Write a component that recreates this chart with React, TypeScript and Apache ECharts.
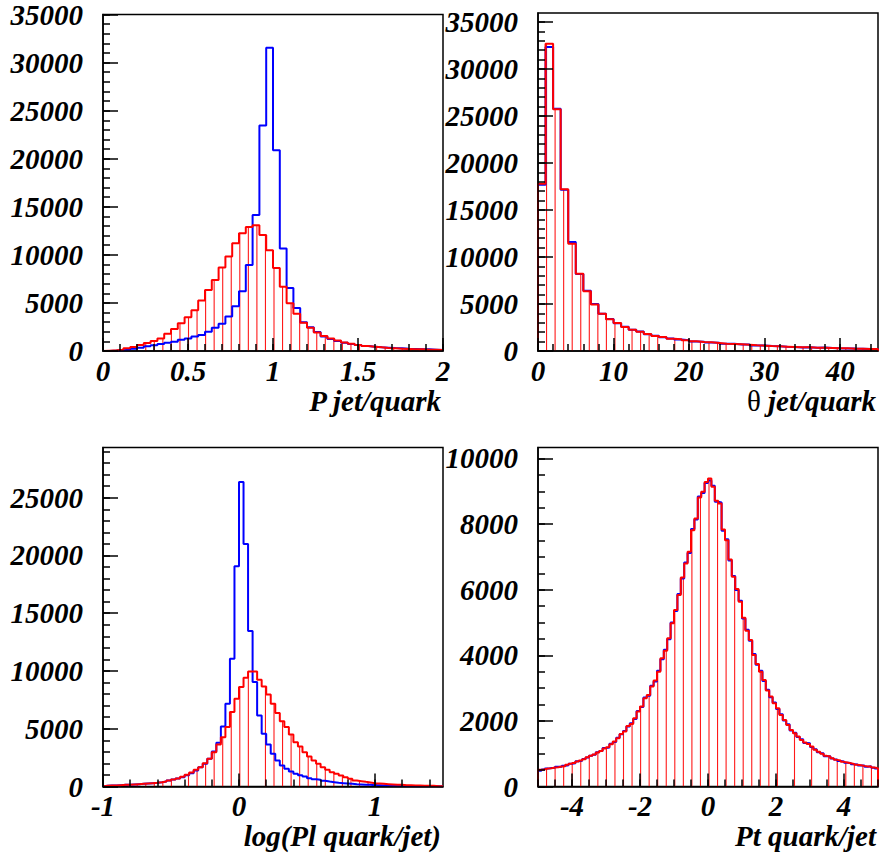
import React, { useEffect, useRef } from 'react';
import * as echarts from 'echarts';

// ---------- DATA ----------
// Panel 1: P jet/quark, 50 bins on [0, 2]
const pBins = { min: 0, max: 2 };
const pBlue = [0, 35, 69, 138, 241, 345, 483, 586, 724, 862, 966, 1173, 1311, 1518, 1656, 2000, 2415, 2830, 3588, 4658, 6210, 8935, 14145, 23460, 31530, 20870, 10660, 6555, 4485, 3000, 2480, 1970, 1520, 1240, 1035, 860, 720, 620, 520, 450, 380, 345, 310, 276, 240, 207, 172, 172, 138, 103];
const pRed = [35, 69, 138, 276, 414, 621, 828, 1035, 1311, 1794, 2277, 2898, 3519, 4244, 5244, 6348, 7383, 8694, 9830, 11210, 12250, 12900, 13075, 12075, 10490, 8625, 6693, 4968, 3864, 2933, 2415, 1932, 1552, 1311, 1104, 897, 759, 621, 517, 448, 380, 310, 276, 241, 207, 172, 172, 138, 138, 103];
const pXTicks = [0, 0.5, 1, 1.5, 2];
const pYTicks = [0, 5000, 10000, 15000, 20000, 25000, 30000, 35000];

// Panel 2: theta jet/quark, 45 bins on [0, 45]
const tBins = { min: 0, max: 45 };
const tBlue = [17700, 32340, 25780, 17150, 11600, 8200, 6400, 5000, 3950, 3400, 2950, 2580, 2250, 2080, 1790, 1620, 1470, 1330, 1220, 1150, 1010, 980, 900, 870, 760, 760, 690, 690, 590, 580, 520, 505, 450, 435, 380, 400, 345, 360, 310, 290, 275, 255, 240, 220, 205];
const tRed = [17800, 32700, 25710, 17200, 11420, 8230, 6350, 4960, 3970, 3370, 2980, 2550, 2270, 2060, 1810, 1600, 1490, 1310, 1240, 1135, 1030, 960, 920, 850, 780, 745, 710, 675, 605, 570, 530, 495, 460, 425, 390, 390, 355, 355, 320, 285, 285, 250, 250, 215, 215];
const tXTicks = [0, 10, 20, 30, 40];
const tYTicks = [0, 5000, 10000, 15000, 20000, 25000, 30000, 35000];

// Panel 3: log(Pl quark/jet), 75 bins on [-1, 1.5]
const lBins = { min: -1, max: 1.5 };
const lBlue = [58, 87, 87, 115, 144, 144, 173, 202, 231, 260, 289, 318, 375, 433, 520, 606, 693, 809, 982, 1155, 1386, 1675, 1964, 2397, 3032, 3783, 5198, 7162, 11061, 19061,
  26370, 21000, 13460, 9040, 6150, 4560, 3640, 2830, 2250, 1820, 1530, 1300, 1100, 980, 870, 720, 635, 580, 490, 430, 375, 320, 290, 260, 230, 200, 175, 145, 145, 115, 115, 87, 87, 58, 58, 58, 40, 40, 30, 30, 29, 20, 20, 15, 10];
const lRed = [58, 87, 87, 115, 144, 144, 173, 202, 231, 260, 289, 318, 375, 433, 520, 606, 693, 838, 1011, 1213, 1444, 1675, 2022, 2397, 2975, 3639, 4274, 5141, 6440, 7595,
  8606, 9415, 9964, 9964, 9242, 8664, 7971, 7162, 6354, 5660, 5141, 4505, 3841, 3466, 2975, 2599, 2253, 1964, 1675, 1444, 1242, 1097, 953, 809, 664, 520, 462, 404, 347, 289, 260, 231, 202, 173, 144, 144, 115, 115, 87, 87, 58, 58, 58, 29, 29];
const lXTicks = [-1, 0, 1];
const lYTicks = [0, 5000, 10000, 15000, 20000, 25000];

// Panel 4: Pt quark/jet, 100 bins on [-5, 5]
const ptBins = { min: -5, max: 5 };
const ptBlue = [480, 520, 545, 565, 575, 600, 605, 630, 645, 690, 710, 770, 785, 840, 885, 940, 965, 1045, 1080, 1170, 1190, 1300, 1360, 1490, 1590, 1690, 1830, 1930, 2060, 2300, 2420, 2710, 2770, 3070, 3200, 3530, 3880, 4170, 4490, 5000, 5350, 5870, 6340, 6830, 7120, 7850, 8140, 8840, 8950, 9250,
  9330, 9170, 8680, 8660, 7800, 7540, 6890, 6420, 5990, 5660, 5120, 4780, 4440, 4040, 3710, 3530, 3220, 2950, 2720, 2560, 2360, 2200, 2010, 1900, 1710, 1640, 1510, 1440, 1325, 1315, 1205, 1135, 1045, 1010, 925, 925, 855, 825, 780, 760, 725, 720, 680, 670, 640, 640, 600, 620, 570, 545];
const ptRed = [507, 528, 548, 558, 579, 589, 609, 619, 660, 690, 720, 761, 792, 832, 893, 934, 974, 1035, 1086, 1157, 1198, 1289, 1370, 1472, 1604, 1675, 1847, 1908, 2081, 2284, 2436, 2690, 2791, 3045, 3228, 3502, 3908, 4141, 4517, 4974, 5380, 5836, 6374, 6800, 7156, 7816, 8171, 8810, 8983, 9287,
  9389, 9135, 8709, 8628, 7836, 7511, 6922, 6395, 6019, 5633, 5146, 4750, 4466, 4009, 3735, 3502, 3248, 2923, 2741, 2538, 2385, 2182, 2030, 1878, 1726, 1624, 1523, 1421, 1340, 1299, 1218, 1117, 1056, 995, 934, 914, 863, 812, 792, 751, 731, 711, 690, 660, 650, 629, 609, 609, 579, 558];
const ptXTicks = [-4, -2, 0, 2, 4];
const ptYTicks = [0, 2000, 4000, 6000, 8000, 10000];

// ---------- STYLE ----------
const FONT = '"Liberation Serif", "Times New Roman", serif';
const RED = '#ff0000';
const BLUE = '#0000ff';
const HATCH = 8.55;
const FS = 29;

function range(a: number, b: number, s: number) {
  const out: number[] = [];
  const n = Math.round((b - a) / s);
  for (let i = 0; i <= n; i++) out.push(+(a + i * s).toFixed(6));
  return out;
}

function stepData(vals: number[], xmin: number, xmax: number) {
  const w = (xmax - xmin) / vals.length;
  const d: number[][] = [[xmin, 0]];
  vals.forEach((v, i) => d.push([xmin + i * w, v]));
  d.push([xmax, vals[vals.length - 1]]);
  d.push([xmax, 0]);
  return d;
}

function binData(vals: number[], xmin: number, xmax: number) {
  const w = (xmax - xmin) / vals.length;
  return vals.map((v, i) => [xmin + i * w, xmin + (i + 1) * w, v]);
}

const panels = [
  { grid: { left: 103, top: 13, width: 340, height: 338 }, bins: pBins, yMax: 35000, xTicks: pXTicks, xMinor: 0.1, yTicks: pYTicks, yMinor: 1000, red: pRed, blue: pBlue },
  { grid: { left: 538, top: 13, width: 340, height: 338 }, bins: tBins, yMax: 35960, xTicks: tXTicks, xMinor: 2, yTicks: tYTicks, yMinor: 1000, red: tRed, blue: tBlue },
  { grid: { left: 103, top: 447.5, width: 340, height: 339 }, bins: lBins, yMax: 29350, xTicks: lXTicks, xMinor: 0.2, yTicks: lYTicks, yMinor: 1000, red: lRed, blue: lBlue },
  { grid: { left: 538, top: 447.5, width: 340, height: 339 }, bins: ptBins, yMax: 10335, xTicks: ptXTicks, xMinor: 0.5, yTicks: ptYTicks, yMinor: 500, red: ptRed, blue: ptBlue },
];

const labelStyle = {
  color: '#000',
  fontFamily: FONT,
  fontSize: FS,
  fontWeight: 'bold' as const,
  fontStyle: 'italic' as const,
};

const titleFont = `italic bold ${FS}px "Liberation Serif", serif`;

export default function App() {
  const ref = useRef<HTMLDivElement>(null);

  useEffect(() => {
    if (!ref.current) return;
    const chart = echarts.init(ref.current, undefined, { renderer: 'svg' });

    const tickLine = { color: '#000', width: 1.5 };
    const xAxis: any[] = [];
    const yAxis: any[] = [];
    const series: any[] = [];

    panels.forEach((p, i) => {
      const { min, max } = p.bins;
      xAxis.push({
        type: 'value', gridIndex: i, min, max, position: 'bottom', z: 10,
        axisLine: { show: true, onZero: false, lineStyle: tickLine },
        axisTick: { show: true, inside: true, length: 13, customValues: p.xTicks, lineStyle: tickLine },
        axisLabel: { ...labelStyle, margin: 5, customValues: p.xTicks, formatter: (v: number) => String(v), hideOverlap: false },
        splitLine: { show: false },
      });
      xAxis.push({
        type: 'value', gridIndex: i, min, max, position: 'bottom', z: 10,
        axisLine: { show: false, onZero: false },
        axisTick: { show: true, inside: true, length: 7, customValues: range(min, max, p.xMinor), lineStyle: tickLine },
        axisLabel: { show: false },
        splitLine: { show: false },
      });
      yAxis.push({
        type: 'value', gridIndex: i, min: 0, max: p.yMax, position: 'left', z: 10,
        axisLine: { show: true, onZero: false, lineStyle: tickLine },
        axisTick: { show: true, inside: true, length: 15, customValues: p.yTicks, lineStyle: tickLine },
        axisLabel: { ...labelStyle, margin: 20, customValues: p.yTicks, formatter: (v: number) => String(v), hideOverlap: false },
        splitLine: { show: false },
      });
      yAxis.push({
        type: 'value', gridIndex: i, min: 0, max: p.yMax, position: 'left', z: 10,
        axisLine: { show: false, onZero: false },
        axisTick: { show: true, inside: true, length: 7, customValues: range(0, Math.floor(p.yMax / p.yMinor) * p.yMinor, p.yMinor), lineStyle: tickLine },
        axisLabel: { show: false },
        splitLine: { show: false },
      });

      // red hatching under the red histogram
      series.push({
        type: 'custom',
        xAxisIndex: 2 * i, yAxisIndex: 2 * i,
        silent: true,
        z: 2,
        encode: { x: [0, 1], y: 2 },
        data: binData(p.red, min, max),
        renderItem: (params: any, api: any) => {
          const lo = api.value(0), hi = api.value(1), v = api.value(2);
          const a = api.coord([lo, 0]);
          const b = api.coord([hi, 0]);
          const top = api.coord([lo, v])[1];
          const origin = api.coord([min, 0])[0];
          const children: any[] = [];
          let k = Math.ceil((a[0] - origin) / HATCH);
          if (k < 1) k = 1;
          for (; origin + k * HATCH < b[0] - 0.3; k++) {
            const px = origin + k * HATCH;
            children.push({
              type: 'line',
              shape: { x1: px, y1: a[1], x2: px, y2: top },
              style: { stroke: RED, lineWidth: 1.1, opacity: 0.9 },
            });
          }
          return { type: 'group', children };
        },
      });
      series.push({
        type: 'line', xAxisIndex: 2 * i, yAxisIndex: 2 * i, step: 'end', showSymbol: false, silent: true, z: 3,
        lineStyle: { color: BLUE, width: 2 }, data: stepData(p.blue, min, max),
      });
      series.push({
        type: 'line', xAxisIndex: 2 * i, yAxisIndex: 2 * i, step: 'end', showSymbol: false, silent: true, z: 4,
        lineStyle: { color: RED, width: 2 }, data: stepData(p.red, min, max),
      });
    });

    const titleStyle = (text: string) => ({ text, font: titleFont, fill: '#000', align: 'right', verticalAlign: 'middle' });

    chart.setOption({
      animation: false,
      grid: panels.map((p) => ({ ...p.grid, show: true, borderColor: '#000', borderWidth: 1.5, backgroundColor: 'transparent' })),
      xAxis,
      yAxis,
      series,
      graphic: [
        { type: 'text', x: 441, y: 401, style: titleStyle('P jet/quark') },
        {
          type: 'text', x: 876, y: 401,
          style: {
            ...titleStyle('{s|θ} jet/quark'),
            rich: { s: { fontFamily: FONT, fontSize: FS, fontStyle: 'normal', fontWeight: 'normal', fill: '#000' } },
          },
        },
        { type: 'text', x: 441, y: 836, style: titleStyle('log(Pl quark/jet)') },
        { type: 'text', x: 876, y: 836, style: titleStyle('Pt quark/jet') },
      ],
    });

    return () => chart.dispose();
  }, []);

  return <div ref={ref} style={{ position: 'absolute', left: 0, top: 0, width: 880, height: 856, background: '#fff' }} />;
}
